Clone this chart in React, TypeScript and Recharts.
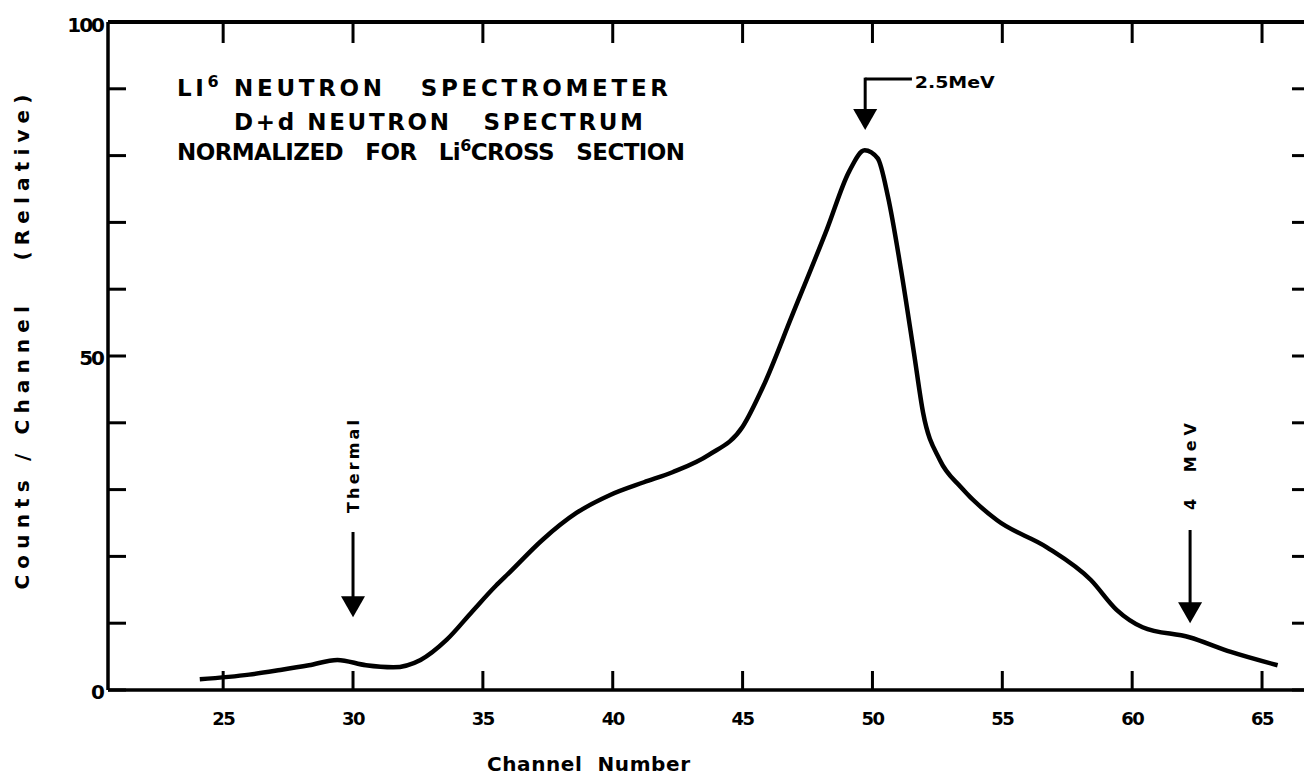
// Li6 neutron spectrometer — D+d neutron spectrum, counts per channel
import React from 'react';
import { ComposedChart, Line, XAxis, YAxis, ReferenceLine, ReferenceDot } from 'recharts';

// values
const channels = [24.1, 26.0, 27.2, 28.3, 29.4, 30.5, 31.55, 32.6, 33.6, 34.6, 35.5, 36.0, 37.3, 38.6, 39.9, 41.2, 42.3, 43.7, 45.0, 45.8, 46.9, 48.25, 49.1, 49.7, 50.2, 50.6, 51.1, 51.6, 51.95, 52.6, 53.4, 54.8, 56.7, 58.4, 59.4, 60.4, 62.2, 63.8, 65.6];
const counts = [1.6, 2.3, 3.0, 3.7, 4.5, 3.7, 3.4, 4.5, 7.5, 11.8, 15.6, 17.5, 22.5, 26.5, 29.2, 31.1, 32.6, 35.2, 39.4, 45.5, 56.0, 69.0, 77.6, 80.8, 79.6, 73.8, 62.9, 50.4, 41.5, 34.4, 30.4, 25.4, 21.4, 16.5, 12.0, 9.4, 7.9, 5.7, 3.7];

const xTicks = [25, 30, 35, 40, 45, 50, 55, 60, 65];
const yTicks = [0, 10, 20, 30, 40, 50, 60, 70, 80, 90, 100];
const yLabelled = [0, 50, 100];

const xDomain = [20.566, 66.77];
const yDomain = [0, 100];

const spectrum = channels.map((c, i) => ({ channel: c, counts: counts[i] }));

const FONT = '"DejaVu Sans", sans-serif';
const INK = '#000';

const BottomTick = (props: any) => {
  const { x, y, payload } = props;
  return (
    <g>
      <line x1={x} x2={x} y1={y} y2={y - 19} stroke={INK} strokeWidth={3} />
      <text x={x} y={y + 35} textAnchor="middle" fontFamily={FONT} fontWeight="bold" fontSize={18} letterSpacing={-1.5} fill={INK}>
        {payload.value}
      </text>
    </g>
  );
};

const TopTick = (props: any) => {
  const { x, y } = props;
  return <line x1={x} x2={x} y1={y} y2={y + 21} stroke={INK} strokeWidth={3} />;
};

const LeftTick = (props: any) => {
  const { x, y, payload } = props;
  const v = payload.value;
  return (
    <g>
      <line x1={x} x2={x + 18} y1={y} y2={y} stroke={INK} strokeWidth={3} />
      {yLabelled.includes(v) && (
        <text x={x - 5} y={y + (v === 100 ? 3 : 2)} textAnchor="end" dominantBaseline="central" fontFamily={FONT} fontWeight="bold" fontSize={20} letterSpacing={-2} fill={INK}>
          {v}
        </text>
      )}
    </g>
  );
};

const RightTick = (props: any) => {
  const { x, y } = props;
  return <line x1={x} x2={x - 16} y1={y} y2={y} stroke={INK} strokeWidth={3} />;
};

const arrowHead = (props: any) => {
  const { cx, cy } = props;
  return <path d={`M${cx - 12},${cy - 21} L${cx + 12},${cy - 21} L${cx},${cy} Z`} fill={INK} />;
};

const sideLabel = (text: string, len: number) => (props: any) => {
  const { cx, cy } = props;
  return (
    <text
      x={cx}
      y={cy}
      transform={`rotate(-90 ${cx} ${cy})`}
      textAnchor="middle"
      dominantBaseline="central"
      fontFamily={FONT}
      fontWeight="bold"
      fontSize={16}
      textLength={len}
      lengthAdjust="spacing"
      style={{ whiteSpace: 'pre' }}
      fill={INK}
    >
      {text}
    </text>
  );
};

const peakLabel = (props: any) => {
  const { cx, cy } = props;
  return (
    <text x={cx} y={cy} dominantBaseline="central" fontFamily={FONT} fontWeight="bold" fontSize={16} textLength={80} lengthAdjust="spacingAndGlyphs" fill={INK}>
      2.5MeV
    </text>
  );
};

// vertical arrows pointing down onto the spectrum
const downArrows = [
  { name: 'Thermal', channel: 30, labelAt: 33.46, labelLen: 93, from: 23.65, tip: 10.9 },
  { name: '4  MeV', channel: 62.23, labelAt: 33.46, labelLen: 87, from: 23.95, tip: 10.0 },
];

const peakArrow = { channel: 49.72, elbow: 91.47, endChannel: 51.52, tip: 83.83, labelChannel: 51.63, labelAt: 90.9 };

const titleStyle: React.CSSProperties = { whiteSpace: 'pre' };

export default function App() {
  return (
    <div style={{ position: 'absolute', left: 0, top: 0, width: 1304, height: 780, overflow: 'hidden', background: '#fff' }}>
      <ComposedChart width={1310} height={780} data={spectrum} margin={{ top: 21, right: 1, bottom: 89, left: 107 }}>
        <XAxis
          xAxisId="bottom"
          dataKey="channel"
          type="number"
          domain={xDomain}
          allowDataOverflow
          ticks={xTicks}
          height={1}
          tickSize={0}
          tickMargin={0}
          tickLine={false}
          axisLine={{ stroke: INK, strokeWidth: 3.5 }}
          tick={<BottomTick />}
          interval={0}
        />
        <XAxis
          xAxisId="top"
          orientation="top"
          dataKey="channel"
          type="number"
          domain={xDomain}
          allowDataOverflow
          ticks={xTicks}
          height={1}
          tickSize={0}
          tickMargin={0}
          tickLine={false}
          axisLine={{ stroke: INK, strokeWidth: 4 }}
          tick={<TopTick />}
          interval={0}
        />
        <YAxis
          yAxisId="left"
          type="number"
          domain={yDomain}
          allowDataOverflow
          ticks={yTicks}
          width={1}
          tickSize={0}
          tickMargin={0}
          tickLine={false}
          axisLine={{ stroke: INK, strokeWidth: 3.5 }}
          tick={<LeftTick />}
          interval={0}
        />
        <YAxis
          yAxisId="right"
          orientation="right"
          type="number"
          domain={yDomain}
          allowDataOverflow
          ticks={yTicks}
          width={1}
          tickSize={0}
          tickMargin={0}
          tickLine={false}
          axisLine={{ stroke: INK, strokeWidth: 3.5 }}
          tick={<RightTick />}
          interval={0}
        />

        <Line
          xAxisId="bottom"
          yAxisId="left"
          type="monotone"
          dataKey="counts"
          stroke={INK}
          strokeWidth={4.5}
          dot={false}
          activeDot={false}
          isAnimationActive={false}
        />
        {/* binds the frame axes (top / right) to the same data so their scales match */}
        <Line
          xAxisId="top"
          yAxisId="right"
          type="monotone"
          dataKey="counts"
          stroke="none"
          dot={false}
          activeDot={false}
          isAnimationActive={false}
        />

        {downArrows.map((a) => (
          <ReferenceLine
            key={a.name + '-shaft'}
            xAxisId="bottom"
            yAxisId="left"
            segment={[{ x: a.channel, y: a.from }, { x: a.channel, y: a.tip + 2 }]}
            stroke={INK}
            strokeWidth={3}
          />
        ))}
        {downArrows.map((a) => (
          <ReferenceDot key={a.name + '-head'} xAxisId="bottom" yAxisId="left" x={a.channel} y={a.tip} r={1} shape={arrowHead} />
        ))}
        {downArrows.map((a) => (
          <ReferenceDot key={a.name + '-label'} xAxisId="bottom" yAxisId="left" x={a.channel} y={a.labelAt} r={1} shape={sideLabel(a.name, a.labelLen)} />
        ))}

        <ReferenceLine
          xAxisId="bottom"
          yAxisId="left"
          segment={[{ x: peakArrow.endChannel, y: peakArrow.elbow }, { x: peakArrow.channel, y: peakArrow.elbow }]}
          stroke={INK}
          strokeWidth={3}
        />
        <ReferenceLine
          xAxisId="bottom"
          yAxisId="left"
          segment={[{ x: peakArrow.channel, y: peakArrow.elbow + 0.2 }, { x: peakArrow.channel, y: peakArrow.tip + 2 }]}
          stroke={INK}
          strokeWidth={3}
        />
        <ReferenceDot xAxisId="bottom" yAxisId="left" x={peakArrow.channel} y={peakArrow.tip} r={1} shape={arrowHead} />
        <ReferenceDot xAxisId="bottom" yAxisId="left" x={peakArrow.labelChannel} y={peakArrow.labelAt} r={1} shape={peakLabel} />
      </ComposedChart>

      <svg width={1304} height={780} style={{ position: 'absolute', left: 0, top: 0, pointerEvents: 'none' }}>
        <g fontFamily={FONT} fontWeight="bold" fill={INK}>
          <text x={177} y={96} fontSize={23} textLength={491} lengthAdjust="spacing" style={titleStyle}>
            LI<tspan fontSize={16} dy={-9}>6</tspan><tspan dy={9}> NEUTRON   SPECTROMETER</tspan>
          </text>
          <text x={234} y={130} fontSize={23} textLength={409} lengthAdjust="spacing" style={titleStyle}>
            D+d NEUTRON   SPECTRUM
          </text>
          <text x={177} y={160} fontSize={23} textLength={508} lengthAdjust="spacing" style={titleStyle}>
            NORMALIZED   FOR   Li<tspan fontSize={16} dy={-9}>6</tspan><tspan dy={9}>CROSS   SECTION</tspan>
          </text>
          <text
            x={22}
            y={342}
            transform="rotate(-90 22 342)"
            textAnchor="middle"
            dominantBaseline="central"
            fontSize={20}
            textLength={495}
            lengthAdjust="spacing"
            style={titleStyle}
          >
            Counts / Channel   (Relative)
          </text>
          <text x={487} y={771} fontSize={20} textLength={203} lengthAdjust="spacing" style={titleStyle}>
            Channel  Number
          </text>
        </g>
      </svg>
    </div>
  );
}
